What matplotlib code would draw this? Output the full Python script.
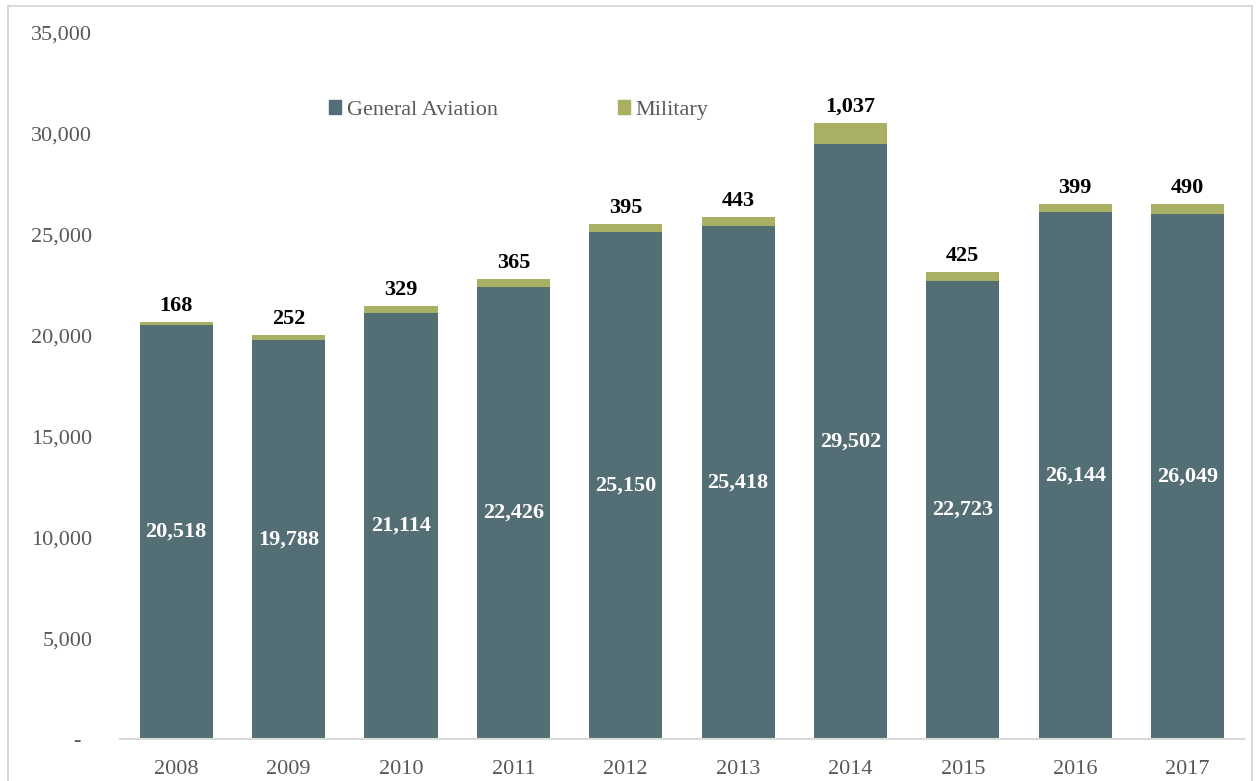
import numpy as np
import matplotlib.pyplot as plt
from matplotlib.patches import Rectangle, Patch
from matplotlib.ticker import FuncFormatter

years = ["2008", "2009", "2010", "2011", "2012", "2013", "2014", "2015", "2016", "2017"]
general_aviation = [20518, 19788, 21114, 22426, 25150, 25418, 29502, 22723, 26144, 26049]
military = [168, 252, 329, 365, 395, 443, 1037, 425, 399, 490]

GA_COLOR = "#546e75"
MIL_COLOR = "#a9b064"
TXT = "#595959"

plt.rcParams['font.family'] = ['Liberation Serif', 'DejaVu Serif']

fig = plt.figure(figsize=(12.57, 7.81), dpi=100)
ax = fig.add_axes([0.0955, 0.0538, 0.894, 0.904])

x = np.arange(len(years))
ga = np.array(general_aviation)
mil = np.array(military)
w = 0.65

ax.bar(x, ga, width=w, color=GA_COLOR, zorder=2)
ax.bar(x, mil, width=w, bottom=ga, color=MIL_COLOR, zorder=2)

# value labels: GA inside the bar, military on top of the stack
for xi, g, m in zip(x, ga, mil):
    ax.text(xi, g / 2, f"{g:,}", ha="center", va="center", color="white",
            fontsize=16, fontweight="bold")
    ax.text(xi, g + m + 300, f"{m:,}", ha="center", va="bottom", color="black",
            fontsize=16, fontweight="bold")

ax.set_xlim(-0.5, len(years) - 0.5)
ax.set_ylim(0, 35000)
ax.set_yticks(np.arange(0, 35001, 5000))
ax.yaxis.set_major_formatter(FuncFormatter(lambda v, p: "-  " if v == 0 else f"{int(v):,}"))
ax.set_xticks(x)
ax.set_xticklabels(years)
ax.tick_params(axis="both", length=0, labelsize=16, colors=TXT)
ax.tick_params(axis="y", pad=20)
ax.tick_params(axis="x", pad=15)

for side in ("top", "right", "left"):
    ax.spines[side].set_visible(False)
ax.spines["bottom"].set_color("#d9d9d9")
ax.spines["bottom"].set_linewidth(1.5)

handles = [Patch(color=GA_COLOR, label="General Aviation"),
           Patch(color=MIL_COLOR, label="Military")]
ax.legend(handles=handles, loc="center left", bbox_to_anchor=(0.168, 0.891),
          ncol=2, frameon=False, fontsize=16, handlelength=0.55, handleheight=0.6,
          handletextpad=0.25, columnspacing=5.4, labelcolor=TXT)

# light outer border around the chart area
fig.patches.append(Rectangle((8 / 1257, -0.01), 1244 / 1257, 1.01 - 6 / 781,
                             transform=fig.transFigure, fill=False,
                             edgecolor="#d9d9d9", linewidth=1.5))

fig.savefig("out.png", dpi=100)
